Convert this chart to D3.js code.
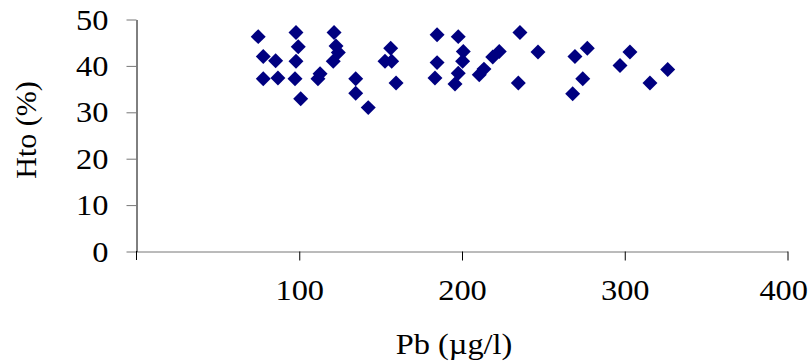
<!DOCTYPE html>
<html>
<head>
<meta charset="utf-8">
<script src="https://cdn.jsdelivr.net/npm/d3@7"></script>
<style>
  html, body { margin: 0; padding: 0; background: #fff; }
  svg text { font-family: "Liberation Serif", "Times New Roman", serif; fill: #000; }
</style>
</head>
<body>
<div id="chart"></div>
<script>
// Pb (µg/l) against Hto (%)
const pbValues = [75.1, 78.2, 85.8, 78.2, 87.2, 97.7, 98.3, 99.7, 98.3, 101.2,
  113.1, 111.8, 121.7, 122.9, 124.3, 121.2, 135.0, 135.0, 142.7, 156.5,
  153.0, 157.1, 159.8, 185.0, 185.0, 183.7, 198.0, 201.1, 200.7, 198.0,
  196.0, 219.2, 223.2, 210.9, 213.8, 235.9, 247.0, 234.9, 269.7, 277.3,
  274.5, 268.3, 303.5, 297.4, 326.7, 315.8];
const htoValues = [46.2, 41.9, 41.0, 37.1, 37.3, 37.1, 47.1, 44.0, 40.9, 32.8,
  38.2, 37.1, 47.1, 44.2, 42.8, 40.9, 37.1, 34.0, 30.9, 43.7,
  40.9, 40.9, 36.2, 46.6, 40.6, 37.3, 46.2, 43.0, 40.9, 38.3,
  36.0, 41.8, 43.0, 38.0, 39.2, 47.1, 42.9, 36.2, 41.9, 43.7,
  37.1, 33.9, 42.9, 40.0, 39.1, 36.2];
const xTicks = [100, 200, 300, 400];
const yTicks = [0, 10, 20, 30, 40, 50];

const width = 811, height = 362;
const margin = { top: 19, right: 24, bottom: 111, left: 136 };
const fontSize = 30;
const stretch = 1.08; // the original text is a bit wider than Liberation Serif

const svg = d3.select('#chart')
  .append('svg')
  .attr('width', width)
  .attr('height', height);

const x = d3.scaleLinear()
  .domain([0, 400])
  .range([margin.left, width - margin.right]);

const y = d3.scaleLinear()
  .domain([0, 50])
  .range([height - margin.bottom, margin.top]);

// x axis
const xAxis = svg.append('g')
  .attr('transform', `translate(0.5,${y(0) + 0.5})`)
  .call(d3.axisBottom(x).tickValues(xTicks).tickSize(9).tickSizeOuter(0).tickPadding(18));
xAxis.select('.domain').attr('stroke', '#777');
xAxis.selectAll('.tick line').attr('stroke', '#000');
xAxis.selectAll('.tick text')
  .attr('font-family', '"Liberation Serif", serif')
  .attr('font-size', fontSize)
  .attr('transform', `scale(${stretch},1)`);
// last label is pulled inside the picture, like the original
xAxis.selectAll('.tick text')
  .filter(d => d === xTicks[xTicks.length - 1])
  .attr('text-anchor', 'end')
  .attr('x', (width - 4 - x(xTicks[xTicks.length - 1])) / stretch);

// y axis
const yAxis = svg.append('g')
  .attr('transform', `translate(${x(0) + 0.5},0.5)`)
  .call(d3.axisLeft(y).tickValues(yTicks).tickSize(10).tickSizeOuter(0).tickPadding(18));
yAxis.select('.domain').attr('stroke', '#000');
yAxis.selectAll('.tick line').attr('stroke', '#777');
yAxis.selectAll('.tick text')
  .attr('font-family', '"Liberation Serif", serif')
  .attr('font-size', fontSize)
  .attr('x', -28 / stretch)
  .attr('transform', `scale(${stretch},1)`);

// little tick below the origin
svg.append('line')
  .attr('x1', x(0) + 0.5).attr('x2', x(0) + 0.5)
  .attr('y1', y(0)).attr('y2', y(0) + 9)
  .attr('stroke', '#000');

// points
const pts = pbValues.map((v, i) => ({ pb: v, hto: htoValues[i] }));
svg.append('g')
  .selectAll('path')
  .data(pts)
  .enter()
  .append('path')
  .attr('d', d3.symbol(d3.symbolSquare, 112))
  .attr('transform', d => `translate(${x(d.pb)},${y(d.hto)}) rotate(45)`)
  .attr('fill', '#000080');

// axis titles
svg.append('text')
  .attr('transform', `translate(454,354) scale(${stretch},1)`)
  .attr('text-anchor', 'middle')
  .attr('font-size', fontSize)
  .text('Pb (µg/l)');

svg.append('text')
  .attr('transform', 'translate(36,130) rotate(-90)')
  .attr('text-anchor', 'middle')
  .attr('font-size', fontSize)
  .text('Hto (%)');
</script>
</body>
</html>
